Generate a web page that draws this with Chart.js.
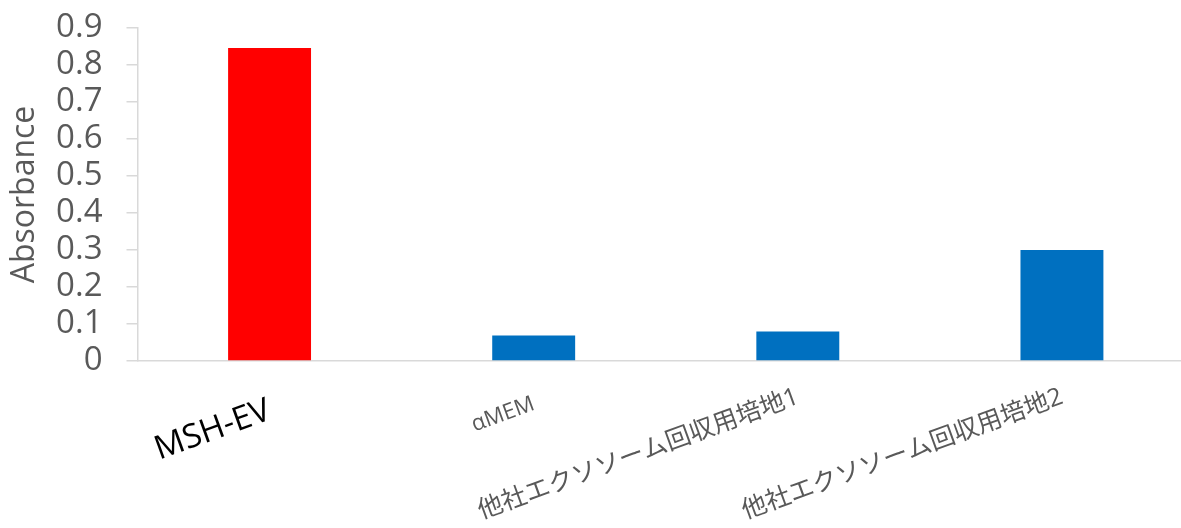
<!DOCTYPE html>
<html>
<head>
<meta charset="utf-8">
<script src="https://cdn.jsdelivr.net/npm/chart.js@4/dist/chart.umd.min.js"></script>
<style>
  html, body { margin: 0; padding: 0; background: #fff; overflow: hidden; }
  #wrap { width: 1200px; height: 528px; position: relative; }
</style>
</head>
<body>
<div id="wrap"><canvas id="absorbance-chart"></canvas></div>
<script>
// Chart data
const categories = ['MSH-EV', 'αMEM', '他社エクソソーム回収用培地1', '他社エクソソーム回収用培地2'];
const absorbance = [0.846, 0.069, 0.080, 0.300];
const barColors = ['#ff0000', '#0070c0', '#0070c0', '#0070c0'];
const yTickValues = [0, 0.1, 0.2, 0.3, 0.4, 0.5, 0.6, 0.7, 0.8, 0.9];

// Category label styles (first one is emphasized)
const labelSizes = [33, 22, 25, 25];
const labelLineHeights = [1.2, 1.2, 0.45, 0.45];
const labelColors = ['#000000', '#595959', '#595959', '#595959'];

const FONT = '"Open Sans", "Noto Sans CJK JP", sans-serif';
const AXIS_GRAY = '#d9d9d9';
const TEXT_GRAY = '#595959';

const ctx = document.getElementById('absorbance-chart').getContext('2d');

new Chart(ctx, {
  type: 'bar',
  data: {
    labels: categories,
    datasets: [{
      label: 'Absorbance',
      data: absorbance,
      backgroundColor: barColors,
      borderWidth: 0,
      categoryPercentage: 1,
      barPercentage: 0.314,
    }],
  },
  options: {
    responsive: true,
    maintainAspectRatio: false,
    animation: false,
    layout: {
      padding: { top: 28, right: 6, bottom: 0, left: 0 },
    },
    plugins: {
      legend: { display: false },
      tooltip: { enabled: false },
    },
    scales: {
      x: {
        grid: { display: false },
        border: { display: true, color: AXIS_GRAY, width: 1.5 },
        ticks: {
          autoSkip: false,
          minRotation: 20,
          maxRotation: 20,
          padding: 22,
          color: (c) => labelColors[c.index],
          font: (c) => ({
            family: FONT,
            size: labelSizes[c.index],
            lineHeight: labelLineHeights[c.index],
          }),
        },
        afterFit: (scale) => { scale.height = 167; },
      },
      y: {
        min: 0,
        max: 0.9,
        grid: {
          drawOnChartArea: false,
          drawTicks: true,
          tickLength: 11,
          color: AXIS_GRAY,
          lineWidth: 1.5,
        },
        border: { display: true, color: AXIS_GRAY, width: 1.5 },
        afterBuildTicks: (scale) => {
          scale.ticks = yTickValues.map(v => ({ value: v }));
        },
        ticks: {
          autoSkip: false,
          padding: 24,
          color: TEXT_GRAY,
          font: { family: FONT, size: 33 },
          callback: (v) => String(+Number(v).toFixed(1)),
        },
        title: {
          display: true,
          text: 'Absorbance',
          color: TEXT_GRAY,
          font: { family: FONT, size: 32 },
          padding: { top: 6, bottom: 0 },
        },
        afterFit: (scale) => {
          scale.width = 137.5;
          scale.paddingTop = 0;
          scale.paddingBottom = 0;
        },
      },
    },
  },
});
</script>
</body>
</html>
